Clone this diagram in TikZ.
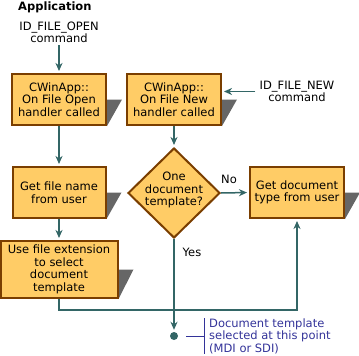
\documentclass[tikz,border=0pt]{standalone}
\usepackage{fontspec}
\setmainfont{DejaVu Sans}
\usetikzlibrary{shapes.geometric,arrows.meta,backgrounds}
\definecolor{boxfill}{HTML}{FFCC66}
\definecolor{boxline}{HTML}{7A3E00}
\definecolor{arrowc}{HTML}{336666}
\definecolor{shadowc}{HTML}{666666}
\definecolor{notec}{HTML}{333399}
\newcommand\boxshadow[1]{\fill[shadowc] (#1.east) -- ++(15,0) -- (#1.south east) -- cycle;}
\begin{document}
\begin{tikzpicture}[x=1pt,y=-1pt,
  font=\fontsize{11.5}{12.5}\selectfont,
  box/.style={draw=boxline, fill=boxfill, line width=2pt, align=center, inner sep=0pt},
  arr/.style={draw=arrowc, line width=1.5pt, shorten >=2pt, -{Stealth[length=8pt,width=7pt,inset=2.5pt]}},
  plain/.style={align=center, inner sep=2pt},
  note/.style={draw=notec, line width=1pt}]
\useasboundingbox (0,0) rectangle (359,356);

\node[font=\fontsize{11.5}{12.5}\selectfont\bfseries, anchor=west, inner sep=0] (title) at (18,7) {Application};
\node[plain] (open) at (59,32.5) {ID\_FILE\_OPEN\\command};
\node[plain, inner sep=4pt] (new) at (297,91.5) {ID\_FILE\_NEW\\command};

\node[box, minimum width=94pt, minimum height=51pt] (b1) at (59,99.5) {CWinApp::\\On File Open\\handler called};
\node[box, minimum width=94pt, minimum height=51pt] (b2) at (174,99.5) {CWinApp::\\On File New\\handler called};
\node[box, minimum width=93pt, minimum height=51pt] (b3) at (59,192.5) {Get file name\\from user};
\node[box, minimum width=117pt, minimum height=57pt] (b4) at (59,269.5) {Use file extension\\to select\\document\\template};
\node[box, minimum width=94pt, minimum height=51pt] (b5) at (297,192.5) {Get document\\type from user};
\node[box, diamond, aspect=1, minimum width=92pt, minimum height=90pt] (d) at (174,193) {};
\node[plain] (dtext) at (174,190) {One\\document\\template?};

\begin{scope}[on background layer]
  \boxshadow{b1}
  \boxshadow{b2}
  \boxshadow{b3}
  \boxshadow{b4}
  \boxshadow{b5}
\end{scope}

\node[circle, fill=arrowc, minimum size=8pt, inner sep=0pt] (dot) at (174,336) {};

\draw[arr] (open.south) -- (b1.north);
\draw[arr] (new.west) -- (new.west -| b2.east);
\draw[arr] (b1.south) -- (b3.north);
\draw[arr] (b3.south) -- (b4.north);
\draw[arr] (b2.south) -- (d.north);
\draw[arr] (d.east) -- (b5.west);
\node[inner sep=0pt] (no) at (229,179) {No};
\draw[arr] (d.south) -- (dot.north);
\node[inner sep=0pt] (yes) at (192,252) {Yes};

\coordinate (lowy) at (0,310);
\draw[arr] (b4.south) |- (b5.south |- lowy) -- (b5.south);

\coordinate (n1) at (186,336);
\coordinate (n2) at (204,336);
\coordinate (bt) at (204,318);
\coordinate (bb) at (204,354);
\draw[note] (n1) -- (n2);
\draw[note] (bt) -- (bb);
\node[anchor=west, align=left, text=notec, inner sep=0pt] (notetext) at (209,336) {Document template\\selected at this point\\(MDI or SDI)};
\end{tikzpicture}
\end{document}
